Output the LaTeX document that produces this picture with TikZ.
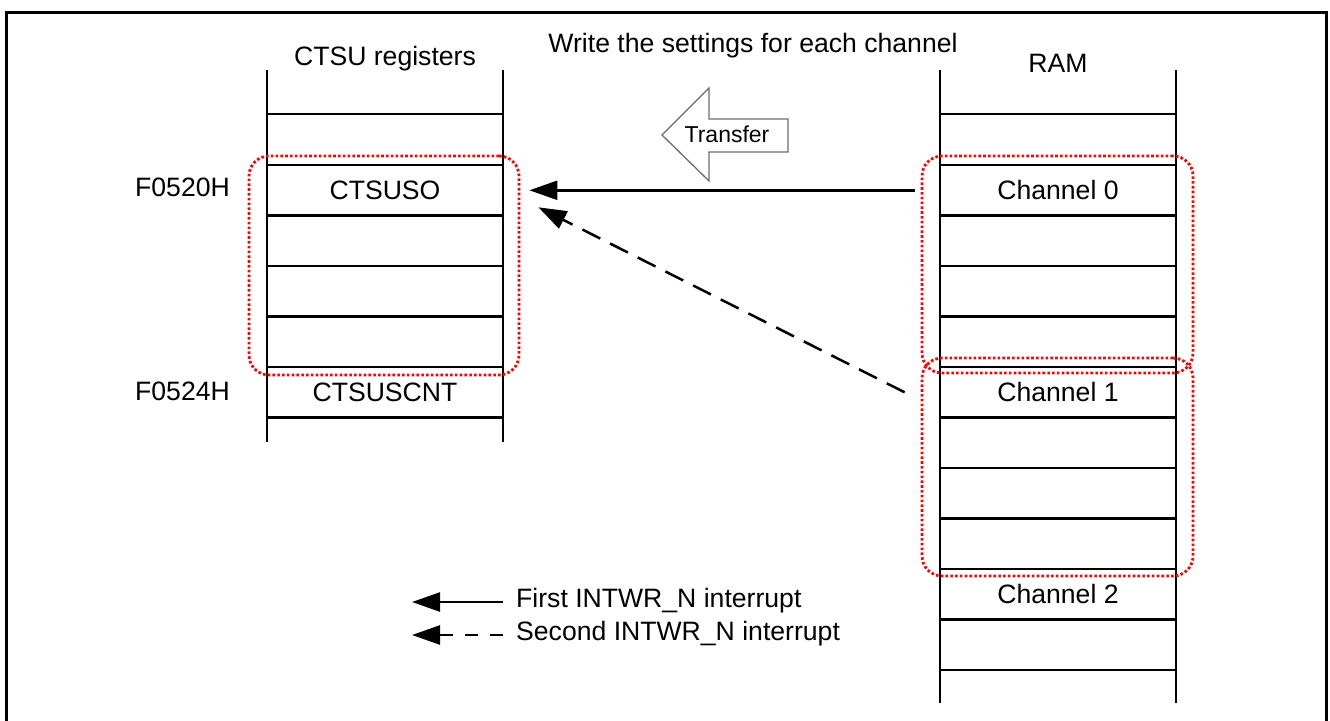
\documentclass[tikz,border=0pt]{standalone}
\usepackage{fontspec}
\setmainfont{Liberation Sans}
\usetikzlibrary{arrows.meta}

\begin{document}
\begin{tikzpicture}[x=1pt,y=-1pt,
  frame/.style={line width=3pt, line cap=rect},
  regline/.style={line width=2.5pt, black},
  lbl/.style={font=\fontsize{26.6}{31}\selectfont, inner sep=0pt},
  sel/.style={draw=red, line width=2.8pt, dash pattern=on 2.6pt off 2.2pt,
              rounded corners=20pt, inner sep=0pt},
  flow/.style={line width=2.5pt, -{Triangle[length=28pt,width=19pt]}},
  flowdash/.style={flow, dash pattern=on 20pt off 11pt},
  legdash/.style={flow, dash pattern=on 13pt off 12pt},
  blockarrow/.style={draw=gray!85!black, line width=1.3pt, fill=white},
]
\useasboundingbox (0,0) rectangle (1330,720);

% outer frame (open at the bottom)
\draw[frame] (6,720) -- (6,12) -- (1326,12) -- (1326,720);

% headings
\node[lbl, anchor=base] (title) at (753,52) {Write the settings for each channel};
\node[lbl, anchor=base] (reghead) at (385,65) {CTSU registers};
\node[lbl, anchor=base] (ramhead) at (1058,72) {RAM};

% CTSU register column
\draw[regline] (267,70) -- (267,442) (503,70) -- (503,442);
\foreach \yy in {114,165,215.5,266,316.5,367,417.5}
  \draw[regline] (267,\yy) -- (503,\yy);

% RAM column
\draw[regline] (940,70) -- (940,703) (1176,70) -- (1176,703);
\foreach \yy in {114,165,215.5,266,316.5,367,417.5,468,518.5,569,619.5,670}
  \draw[regline] (940,\yy) -- (1176,\yy);

% cell contents and addresses
\node[lbl] (ctsuso)   at (385,190.3) {CTSUSO};
\node[lbl] (ctsuscnt) at (385,392.3) {CTSUSCNT};
\node[lbl, anchor=west] (addr0) at (135,187) {F0520H};
\node[lbl, anchor=west] (addr4) at (135,391) {F0524H};
\node[lbl] (ch0) at (1058,190.3) {Channel 0};
\node[lbl] (ch1) at (1058,392.3) {Channel 1};
\node[lbl] (ch2) at (1058,594.3) {Channel 2};

% selected blocks
\node[sel, minimum width=270pt, minimum height=219pt] (selL)  at (384,265.5) {};
\node[sel, minimum width=271pt, minimum height=217pt] (selR0) at (1057.5,264.5) {};
\node[sel, minimum width=271pt, minimum height=218pt] (selR1) at (1057.5,467) {};

% transfer block arrow
\draw[blockarrow] (662,135) -- (709,88) -- (709,119) -- (788,119) -- (788,152)
  -- (709,152) -- (709,181) -- cycle;
\node[font=\fontsize{23}{27}\selectfont, inner sep=0pt] (xfer) at (727,134) {Transfer};

% transfers on each interrupt
\draw[flow] ([xshift=-6pt]selR0.west |- ch0) -- ([xshift=9pt]selL.east |- ch0);
\draw[flowdash] ([xshift=-16pt]selR1.west |- ch1) -- ([xshift=18pt,yshift=-17pt]selL.east |- ch0);

% legend
\node[lbl, anchor=west] (leg1) at (516,601) {First INTWR\_N interrupt};
\node[lbl, anchor=west] (leg2) at (516,634) {Second INTWR\_N interrupt};
\draw[flow]    ([xshift=-13pt,yshift=-1pt]leg1.west) -- ++(-91,0);
\draw[legdash] ([xshift=-13pt,yshift=-1pt]leg2.west) -- ++(-91,0);
\end{tikzpicture}
\end{document}
